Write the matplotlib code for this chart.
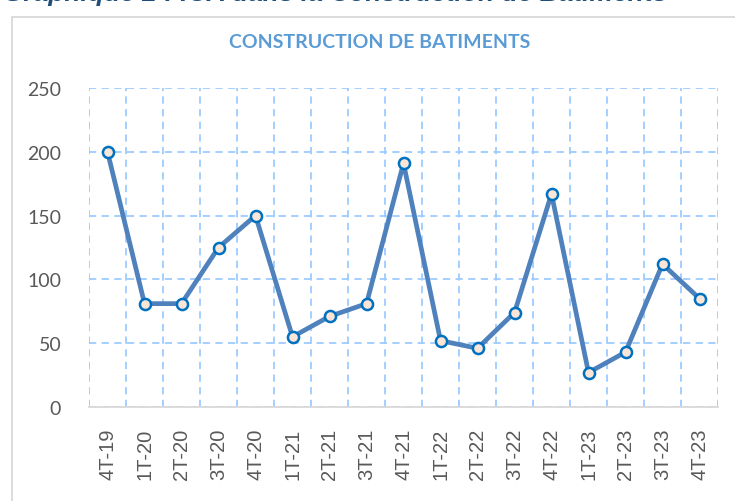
import matplotlib.pyplot as plt
from matplotlib.patches import Rectangle

# Indice trimestriel - construction de batiments
quarters = ["4T-19", "1T-20", "2T-20", "3T-20", "4T-20",
            "1T-21", "2T-21", "3T-21", "4T-21",
            "1T-22", "2T-22", "3T-22", "4T-22",
            "1T-23", "2T-23", "3T-23", "4T-23"]
values = [200, 81, 81, 125, 150,
          55, 71, 81, 191,
          52, 46, 74, 167,
          27, 43, 112, 85]

fig = plt.figure(figsize=(7.35, 5.02), dpi=100)

# cropped caption at the very top of the page
fig.text(0.004, 1 - 1 / 502, "Graphique 2 : ICA dans la Construction de Bâtiments",
         fontsize=19, fontweight="bold", fontstyle="italic", color="#1F4E79",
         family="Liberation Sans", va="baseline", ha="left")

# chart frame
fig.patches.append(Rectangle((12 / 735, -0.1), 1.2, 1 - 18 / 502 + 0.1,
                             transform=fig.transFigure, fill=False,
                             edgecolor="#D9D9D9", linewidth=1.3))

ax = fig.add_axes([89 / 735, 1 - 408 / 502, (718 - 89) / 735, (408 - 89) / 502])

x = range(len(quarters))
ax.plot(x, values, color="#4F81BD", linewidth=3.4, marker="o", markersize=8,
        markerfacecolor="#FBE5D6", markeredgecolor="#0070C0", markeredgewidth=1.8,
        zorder=3)

ax.set_xlim(-0.5, len(quarters) - 0.5)
ax.set_ylim(0, 250)
ax.set_yticks(range(0, 251, 50))
ax.set_xticks(list(x))
ax.set_xticklabels(quarters, rotation=90, fontsize=14.5, color="#595959",
                   family="Liberation Sans")
ax.set_xticks([i - 0.5 for i in range(len(quarters) + 1)], minor=True)

ax.tick_params(axis="y", length=0, pad=20, labelsize=14, labelcolor="#595959")
ax.tick_params(axis="x", which="both", length=0, pad=15)
for lbl in ax.get_yticklabels():
    lbl.set_family("Lato")

ax.grid(axis="y", which="major", color="#9DCBFF", linestyle=(0, (4, 3)), linewidth=1.3)
ax.grid(axis="x", which="minor", color="#9DCBFF", linestyle=(0, (4, 3)), linewidth=1.3)
ax.grid(axis="x", which="major", visible=False)
ax.set_axisbelow(True)

for side in ["top", "right", "left"]:
    ax.spines[side].set_visible(False)
ax.spines["bottom"].set_color("#D9D9D9")
ax.spines["bottom"].set_linewidth(1.3)

fig.text(380 / 735, 1 - 43 / 502, "CONSTRUCTION DE BATIMENTS", ha="center", va="center",
         fontsize=14, fontweight="bold", color="#5B9BD5", family="Lato")

fig.savefig("out.png", dpi=100)
